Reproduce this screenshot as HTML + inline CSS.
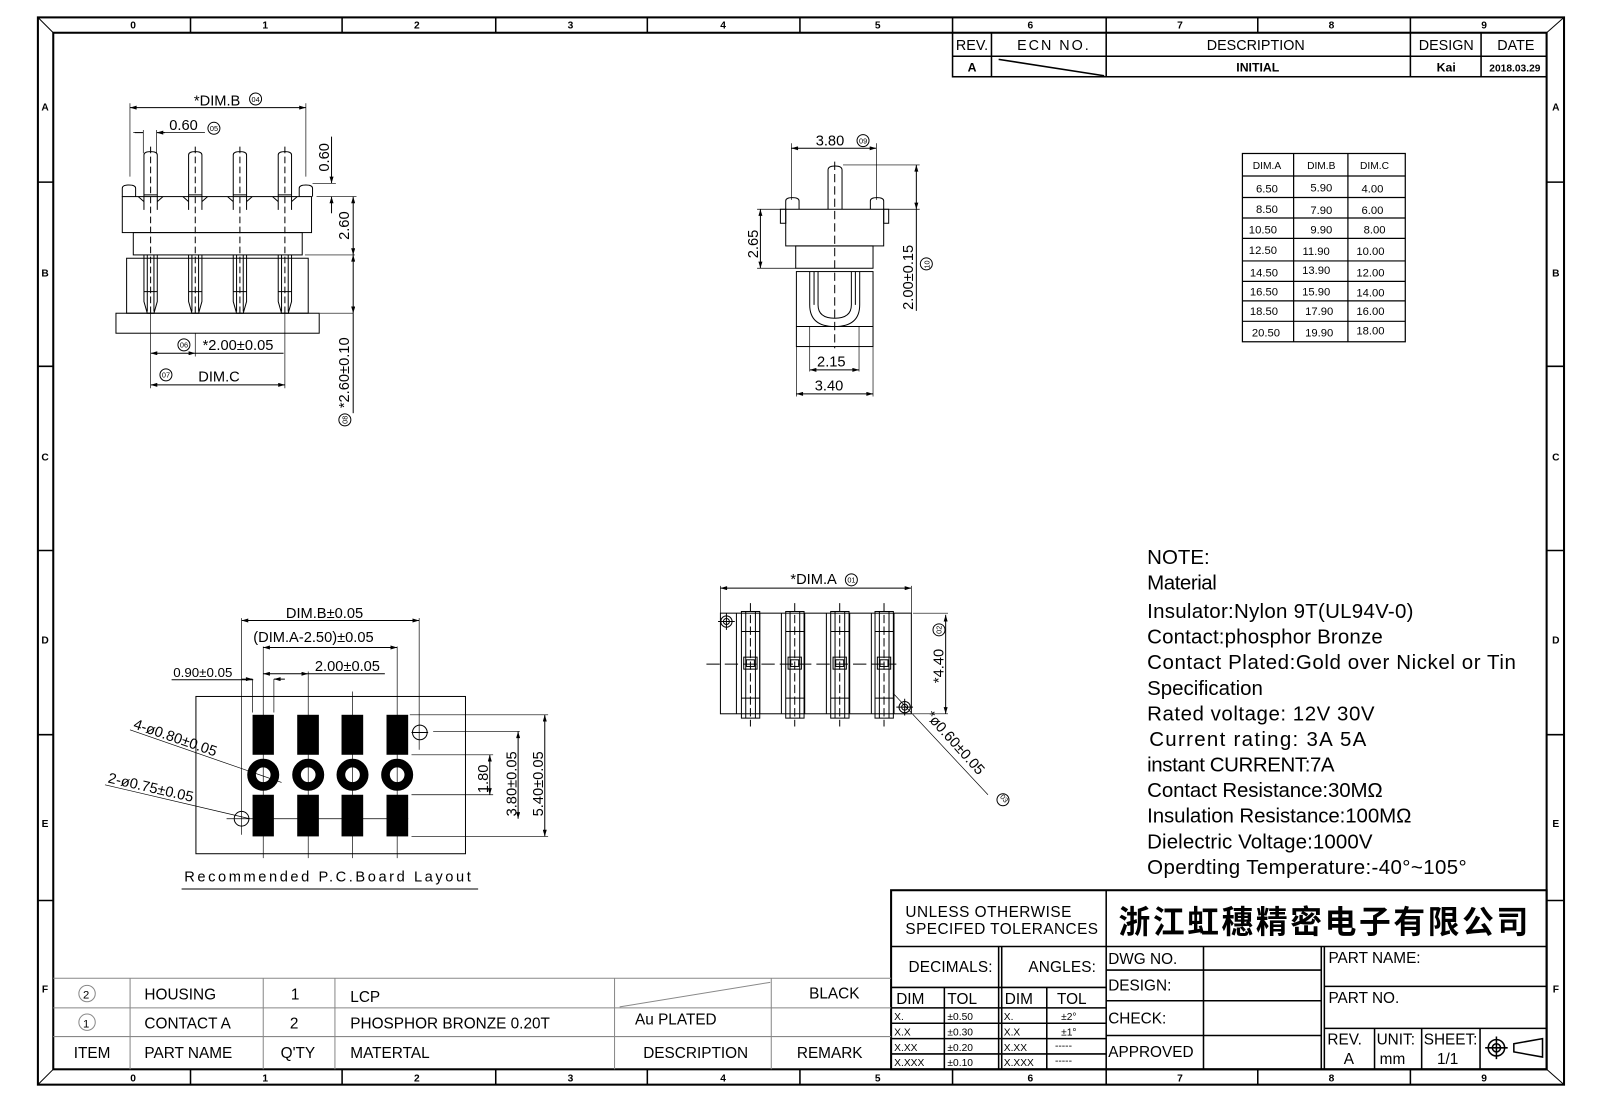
<!DOCTYPE html>
<html><head><meta charset="utf-8"><style>
html,body{margin:0;padding:0;background:#fff}
svg{display:block}
text{font-family:"Liberation Sans","Noto Sans CJK SC",sans-serif;fill:#000}
</style></head><body>
<svg width="1605" height="1100" viewBox="0 0 1567 1075" preserveAspectRatio="none" xmlns="http://www.w3.org/2000/svg">
<defs>
<marker id="a" viewBox="0 0 10 6" refX="10" refY="3" markerWidth="8" markerHeight="4" orient="auto-start-reverse" markerUnits="strokeWidth"><path d="M0,0 L10,3 L0,6z" fill="#000"/></marker>
</defs>
<rect width="1567" height="1075" fill="#fff"/>
<!-- frame -->
<g fill="none" stroke="#000">
<rect x="37" y="17" width="1490" height="1043" stroke-width="2"/>
<rect x="52" y="32" width="1458" height="1013" stroke-width="2"/>
<line x1="37" y1="17" x2="52" y2="32"/><line x1="1527" y1="17" x2="1510" y2="32"/>
<line x1="37" y1="1060" x2="52" y2="1045"/><line x1="1527" y1="1060" x2="1510" y2="1045"/>
<g stroke-width="1.5">
<path d="M186 17v15M334 17v15M484 17v15M632 17v15M781 17v15M930 17v15M1080 17v15M1228 17v15M1377 17v15"/>
<path d="M186 1045v15M334 1045v15M484 1045v15M632 1045v15M781 1045v15M930 1045v15M1080 1045v15M1228 1045v15M1377 1045v15"/>
<path d="M37 178h15M37 358h15M37 538h15M37 718h15M37 880h15"/>
<path d="M1510 178h17M1510 358h17M1510 538h17M1510 718h17M1510 880h17"/>
</g></g>
<g font-size="10" font-weight="bold" text-anchor="middle">
<text x="130" y="28">0</text><text x="259" y="28">1</text><text x="407" y="28">2</text><text x="557" y="28">3</text><text x="706" y="28">4</text><text x="857" y="28">5</text><text x="1006" y="28">6</text><text x="1152" y="28">7</text><text x="1300" y="28">8</text><text x="1449" y="28">9</text>
<text x="130" y="1057">0</text><text x="259" y="1057">1</text><text x="407" y="1057">2</text><text x="557" y="1057">3</text><text x="706" y="1057">4</text><text x="857" y="1057">5</text><text x="1006" y="1057">6</text><text x="1152" y="1057">7</text><text x="1300" y="1057">8</text><text x="1449" y="1057">9</text>
<text x="44" y="108">A</text><text x="44" y="270">B</text><text x="44" y="450">C</text><text x="44" y="629">D</text><text x="44" y="808">E</text><text x="44" y="970">F</text>
<text x="1519" y="108">A</text><text x="1519" y="270">B</text><text x="1519" y="450">C</text><text x="1519" y="629">D</text><text x="1519" y="808">E</text><text x="1519" y="970">F</text>
</g>
<!-- revision table -->
<g fill="none" stroke="#000" stroke-width="1.5">
<rect x="930" y="32" width="580" height="43"/>
<path d="M930 55h580M968 32v43M1080 32v43M1377 32v43M1446 32v43M975 58L1078 74"/>
</g>
<g font-size="14" text-anchor="middle" fill="#000">
<text x="949" y="49">REV.</text><text x="1028" y="49" textLength="70">ECN  NO.</text><text x="1226" y="49">DESCRIPTION</text><text x="1412" y="49">DESIGN</text><text x="1480" y="49">DATE</text>
<text x="949" y="70" font-size="12" font-weight="bold">A</text><text x="1228" y="70" font-size="12" font-weight="bold">INITIAL</text><text x="1412" y="70" font-size="12" font-weight="bold">Kai</text><text x="1479" y="70" font-size="10" font-weight="bold">2018.03.29</text>
</g>
<!-- DIM table -->
<g fill="none" stroke="#000" stroke-width="1.2">
<rect x="1213" y="150" width="159" height="184"/>
<path d="M1263 150v184M1316 150v184M1213 172h159M1213 193h159M1213 213h159M1213 233h159M1213 255h159M1213 275h159M1213 294h159M1213 314h159"/>
</g>
<g font-size="11" text-anchor="middle">
<text x="1237" y="165" font-size="10">DIM.A</text><text x="1290" y="165" font-size="10">DIM.B</text><text x="1342" y="165" font-size="10">DIM.C</text>
<text x="1237" y="188">6.50</text><text x="1290" y="187">5.90</text><text x="1340" y="188">4.00</text>
<text x="1237" y="208">8.50</text><text x="1290" y="209">7.90</text><text x="1340" y="209">6.00</text>
<text x="1233" y="228">10.50</text><text x="1290" y="228">9.90</text><text x="1342" y="228">8.00</text>
<text x="1233" y="248">12.50</text><text x="1285" y="249">11.90</text><text x="1338" y="249">10.00</text>
<text x="1234" y="270">14.50</text><text x="1285" y="268">13.90</text><text x="1338" y="270">12.00</text>
<text x="1234" y="289">16.50</text><text x="1285" y="289">15.90</text><text x="1338" y="290">14.00</text>
<text x="1234" y="308">18.50</text><text x="1288" y="308">17.90</text><text x="1338" y="308">16.00</text>
<text x="1236" y="329">20.50</text><text x="1288" y="329">19.90</text><text x="1338" y="327">18.00</text>
</g>
<!-- notes -->
<g font-size="20">
<text x="1120" y="551">NOTE:</text>
<text x="1120" y="576" textLength="68">Material</text>
<text x="1120" y="604" textLength="260">Insulator:Nylon  9T(UL94V-0)</text>
<text x="1120" y="629" textLength="230">Contact:phosphor  Bronze</text>
<text x="1120" y="654" textLength="360">Contact  Plated:Gold  over  Nickel  or  Tin</text>
<text x="1120" y="679" textLength="113">Specification</text>
<text x="1120" y="704" textLength="222">Rated  voltage: 12V  30V</text>
<text x="1122" y="729" textLength="212">Current  rating: 3A    5A</text>
<text x="1120" y="754" textLength="183">instant  CURRENT:7A</text>
<text x="1120" y="779" textLength="230">Contact  Resistance:30MΩ</text>
<text x="1120" y="804" textLength="258">Insulation  Resistance:100MΩ</text>
<text x="1120" y="829" textLength="220">Dielectric  Voltage:1000V</text>
<text x="1120" y="854" textLength="312">Operdting  Temperature:-40°~105°</text>
</g>
<!-- title block -->
<g fill="none" stroke="#000" stroke-width="1.5">
<rect x="870" y="870" width="640" height="175" stroke-width="2"/>
<path d="M870 925h640M1080 870v175M975 925v120M978 925v120M870 965h210M870 985h210M870 1000h210M870 1015h210M870 1030h210M922 965v80M1022 965v80"/>
<path d="M1080 948h210M1080 978h210M1080 1012h210M1175 925v120M1290 925v120M1293 925v120M1293 964h217M1293 1005h217M1342 1005v40M1388 1005v40M1445 1005v40"/>
</g>
<g font-size="15" fill="#000">
<text x="884" y="896" textLength="162">UNLESS  OTHERWISE</text>
<text x="884" y="913" textLength="188">SPECIFED  TOLERANCES</text>
<text x="1092" y="912" font-size="31" font-weight="bold" font-family="'Noto Sans CJK SC',sans-serif" textLength="400">浙江虹穗精密电子有限公司</text>
<text x="887" y="950" textLength="82">DECIMALS:</text><text x="1004" y="950" textLength="66">ANGLES:</text>
<text x="875" y="981">DIM</text><text x="925" y="981">TOL</text><text x="981" y="981">DIM</text><text x="1032" y="981">TOL</text>
<g font-size="10"><text x="873" y="997">X.</text><text x="925" y="997">±0.50</text><text x="980" y="997">X.</text><text x="1036" y="997">±2°</text>
<text x="873" y="1012">X.X</text><text x="925" y="1012">±0.30</text><text x="980" y="1012">X.X</text><text x="1036" y="1012">±1°</text>
<text x="873" y="1027">X.XX</text><text x="925" y="1027">±0.20</text><text x="980" y="1027">X.XX</text><text x="1030" y="1025">-----</text>
<text x="873" y="1042">X.XXX</text><text x="925" y="1042">±0.10</text><text x="980" y="1042">X.XXX</text><text x="1030" y="1040">-----</text></g>
<text x="1082" y="942">DWG  NO.</text><text x="1082" y="968">DESIGN:</text><text x="1082" y="1000">CHECK:</text><text x="1082" y="1033">APPROVED</text>
<text x="1297" y="941">PART  NAME:</text><text x="1297" y="980">PART  NO.</text>
<text x="1296" y="1021">REV.</text><text x="1312" y="1040">A</text><text x="1344" y="1021">UNIT:</text><text x="1347" y="1040">mm</text><text x="1390" y="1021">SHEET:</text><text x="1403" y="1040">1/1</text>
</g>
<g fill="none" stroke="#000" stroke-width="1.5">
<circle cx="1461" cy="1024" r="8"/><circle cx="1461" cy="1024" r="4"/><path d="M1450 1024h22M1461 1013v22M1478 1020l28-5v18l-28-5z"/>
</g>
<!-- BOM -->
<g fill="none" stroke="#888" stroke-width="1">
<path d="M52 956h818M52 985h818M52 1013h818M127 956v89M257 956v89M327 956v89M600 956v89M753 956v89M605 984L752 960"/>
</g>
<g font-size="15" fill="#888">
<circle cx="85" cy="971" r="8" fill="none" stroke="#888"/><text x="81" y="976" font-size="11">2</text>
<circle cx="85" cy="999" r="8" fill="none" stroke="#888"/><text x="81" y="1004" font-size="11">1</text>
<text x="141" y="977">HOUSING</text><text x="284" y="977">1</text><text x="342" y="979">LCP</text><text x="790" y="976">BLACK</text>
<text x="141" y="1005">CONTACT  A</text><text x="283" y="1005">2</text><text x="342" y="1005">PHOSPHOR  BRONZE  0.20T</text><text x="620" y="1001">Au  PLATED</text>
<text x="72" y="1034">ITEM</text><text x="141" y="1034">PART  NAME</text><text x="274" y="1034">Q'TY</text><text x="342" y="1034">MATERTAL</text><text x="628" y="1034">DESCRIPTION</text><text x="778" y="1034">REMARK</text>
</g>

<!-- VIEW 1: top-left -->
<g transform="scale(0.976 0.977) translate(90 80) scale(0.3333)" fill="none" stroke="#000" stroke-width="3">
<rect x="97" y="350" width="568" height="108"/>
<rect x="130" y="458" width="507" height="67"/>
<rect x="110" y="535" width="545" height="165"/>
<rect x="78" y="700" width="610" height="60"/>
<path d="M97 350v-25q0-10 20-10t20 10v25M628 350v-25q0-10 20-10t20 10v25"/>
<g id="p1"><path d="M162 390V225q0-10 20-10t20 10v165M162 345h40M145 350l17 15M202 365l17-15"/><path d="M182 200v500" stroke-dasharray="20 10"/><path d="M162 525v140l10 35h20l10-35V525M172 525v170M192 525v170M162 635h40"/></g>
<use href="#p1" x="134"/><use href="#p1" x="268"/><use href="#p1" x="403"/>
<path d="M120 290V70M648 290V70" stroke-width="2"/>
<path d="M120 83H648" marker-start="url(#a)" marker-end="url(#a)"/>
<path d="M160 150v70M200 150v70M130 158h30M200 158h145" stroke-width="2"/>
<path d="M135 158h25M225 158h-25" marker-end="url(#a)"/>
<path d="M668 310h70M680 350h120M645 525h150M690 700h100" stroke-width="2"/>
<path d="M725 170v140" marker-end="url(#a)"/><path d="M725 400v-50" marker-end="url(#a)"/>
<path d="M790 350V525" marker-start="url(#a)" marker-end="url(#a)"/>
<path d="M790 525V700" marker-start="url(#a)" marker-end="url(#a)"/><path d="M790 700v300"/>
<path d="M182 700v225M316 760v70M585 700v225" stroke-width="2"/>
<path d="M182 820H316" marker-start="url(#a)" marker-end="url(#a)"/><path d="M316 820h265"/>
<path d="M182 915H585" marker-start="url(#a)" marker-end="url(#a)"/>
<circle cx="497" cy="57" r="18"/><circle cx="372" cy="145" r="18"/><circle cx="282" cy="795" r="18"/><circle cx="228" cy="885" r="18"/><circle cx="765" cy="1020" r="18"/>
</g>
<g transform="scale(0.976 0.977) translate(90 80) scale(0.3333)" font-size="44">
<text x="312" y="76">*DIM.B</text><text x="485" y="66" font-size="22">04</text>
<text x="238" y="150">0.60</text><text x="360" y="153" font-size="22">05</text>
<text transform="translate(718 275) rotate(-90)">0.60</text>
<text transform="translate(778 480) rotate(-90)">2.60</text>
<text transform="translate(778 985) rotate(-90)">*2.60±0.10</text>
<text transform="translate(773 1032) rotate(-90)" font-size="22">08</text>
<text x="338" y="810">*2.00±0.05</text><text x="270" y="803" font-size="22">06</text>
<text x="325" y="905">DIM.C</text><text x="216" y="893" font-size="22">07</text>
</g>

<!-- VIEW 2: side -->
<g transform="scale(0.976 0.977) translate(700 120) scale(0.3333)" fill="none" stroke="#000" stroke-width="3">
<rect x="258" y="268" width="294" height="110"/>
<rect x="242" y="268" width="16" height="42"/><rect x="552" y="268" width="15" height="42"/>
<rect x="288" y="378" width="232" height="67"/>
<rect x="290" y="455" width="230" height="225"/>
<path d="M290 620h230"/>
<path d="M258 268v-25q0-10 20-10t20 10v25M512 268v-25q0-10 20-10t20 10v25M385 268V150q0-12 21-12t21 12v118"/>
<path d="M405 125v560" stroke-dasharray="25 12"/>
<path d="M330 455v100q0 65 75 65t75-65V455M355 455v100q0 40 50 40t50-40V455M343 455v100M467 455v100"/>
<path d="M275 240V70M530 240V70M172 268h86M172 445h116M430 135h230M552 268h108M330 620v135M478 620v135M290 680v150M520 680v150" stroke-width="2"/>
<path d="M275 85H530" marker-start="url(#a)" marker-end="url(#a)"/>
<path d="M182 268V445" marker-start="url(#a)" marker-end="url(#a)"/>
<path d="M650 135V268" marker-start="url(#a)" marker-end="url(#a)"/><path d="M650 268v305"/>
<path d="M330 750H478" marker-start="url(#a)" marker-end="url(#a)"/>
<path d="M290 822H520" marker-start="url(#a)" marker-end="url(#a)"/>
<circle cx="490" cy="62" r="18"/><circle cx="680" cy="432" r="18"/>
</g>
<g transform="scale(0.976 0.977) translate(700 120) scale(0.3333)" font-size="44">
<text x="348" y="76">3.80</text><text x="478" y="70" font-size="22">09</text>
<text transform="translate(175 415) rotate(-90)">2.65</text>
<text transform="translate(640 570) rotate(-90)">2.00±0.15</text>
<text transform="translate(690 446) rotate(-90)" font-size="22">10</text>
<text x="352" y="740">2.15</text><text x="345" y="812">3.40</text>
</g>

<!-- VIEW 3: PCB layout -->
<g transform="scale(0.976 0.977) translate(90 600) scale(0.3333)">
<g fill="none" stroke="#000" stroke-width="3">
<rect x="318" y="290" width="809" height="472"/>
<path d="M455 55v650M988 55v395M520 140v635M655 215v560M788 275v500M922 140v635M488 238v100M552 238v100" stroke-width="2"/>
<path d="M455 62H988" marker-start="url(#a)" marker-end="url(#a)"/>
<path d="M520 143H922" marker-start="url(#a)" marker-end="url(#a)"/>
<path d="M520 222H655" marker-start="url(#a)" marker-end="url(#a)"/><path d="M655 222h230"/>
<path d="M455 238H488" marker-end="url(#a)"/><path d="M585 238H552" marker-end="url(#a)"/><path d="M245 240h245"/>
<path d="M960 345h415M965 465h245M965 585h245M1030 395h260M965 710h410M410 657h545" stroke-width="2"/>
<path d="M1200 465V585" marker-start="url(#a)" marker-end="url(#a)"/>
<path d="M1285 395V657" marker-start="url(#a)" marker-end="url(#a)"/>
<path d="M1365 345V710" marker-start="url(#a)" marker-end="url(#a)"/>
<circle cx="990" cy="398" r="22"/><path d="M965 398h50"/>
<circle cx="455" cy="657" r="22"/>
<path d="M120 390L575 548M45 555L480 657" stroke-width="2"/>
<path d="M275 868h890"/>
</g>
<g fill="#000">
<rect x="488" y="345" width="64" height="120"/><rect x="622" y="345" width="65" height="120"/><rect x="755" y="345" width="65" height="120"/><rect x="890" y="345" width="65" height="120"/>
<rect x="488" y="585" width="64" height="125"/><rect x="622" y="585" width="65" height="125"/><rect x="755" y="585" width="65" height="125"/><rect x="890" y="585" width="65" height="125"/>
</g>
<g fill="none" stroke="#000" stroke-width="26"><circle cx="520" cy="525" r="35"/><circle cx="655" cy="525" r="35"/><circle cx="788" cy="525" r="35"/><circle cx="922" cy="525" r="35"/></g>
<g font-size="44">
<text x="588" y="55">DIM.B±0.05</text>
<text x="490" y="126">(DIM.A-2.50)±0.05</text>
<text x="675" y="213">2.00±0.05</text>
<text x="250" y="232" font-size="40">0.90±0.05</text>
<text transform="translate(1195 580) rotate(-90)">1.80</text>
<text transform="translate(1280 650) rotate(-90)">3.80±0.05</text>
<text transform="translate(1360 650) rotate(-90)">5.40±0.05</text>
<text transform="translate(128 385) rotate(19)">4-ø0.80±0.05</text>
<text transform="translate(52 548) rotate(13)">2-ø0.75±0.05</text>
<text x="283" y="845" textLength="860">Recommended  P.C.Board  Layout</text>
</g>
</g>

<!-- VIEW 4: bottom view -->
<g transform="scale(0.976 0.977) translate(700 570) scale(0.3333)">
<g fill="none" stroke="#000" stroke-width="3">
<rect x="62" y="130" width="573" height="302"/>
<path d="M110 130v302M180 130v302M245 130v302M315 130v302M380 130v302M450 130v302M515 130v302M583 130v302"/>
<g id="c1"><rect x="125" y="125" width="55" height="320"/><path d="M138 125v320M167 125v320M125 185h55M125 385h55"/><rect x="132" y="262" width="40" height="36"/><rect x="140" y="270" width="24" height="20"/><path d="M152 100v370" stroke-dasharray="25 10"/></g>
<use href="#c1" x="133"/><use href="#c1" x="268"/><use href="#c1" x="401"/>
<path d="M20 283h570" stroke-dasharray="40 15"/>
<path d="M62 48v82M635 48v82M640 130h105M640 432h105" stroke-width="2"/>
<path d="M62 55H635" marker-start="url(#a)" marker-end="url(#a)"/>
<path d="M738 135V432" marker-start="url(#a)" marker-end="url(#a)"/>
<circle cx="80" cy="155" r="17"/><circle cx="80" cy="155" r="9"/><path d="M55 155h50M80 130v50"/>
<circle cx="615" cy="412" r="17"/><circle cx="615" cy="412" r="9"/><path d="M590 412h50M615 387v50"/>
<path d="M580 370L865 675" stroke-width="2"/>
<circle cx="455" cy="30" r="18"/><circle cx="718" cy="180" r="18"/><circle cx="910" cy="690" r="18"/>
</g>
<g font-size="44">
<text x="272" y="42">*DIM.A</text><text x="443" y="38" font-size="22">01</text>
<text transform="translate(732 340) rotate(-90)">*4.40</text><text transform="translate(726 192) rotate(-90)" font-size="22">02</text>
<text transform="translate(676 440) rotate(48)">*ø0.60±0.05</text><text transform="translate(900 682) rotate(48)" font-size="22">03</text>
</g>
</g>
</svg>
</body></html>
